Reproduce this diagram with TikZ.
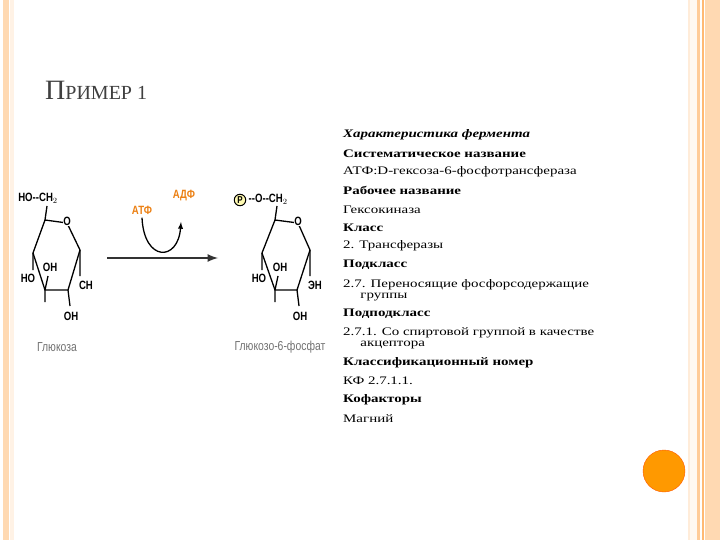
\documentclass[tikz,border=0pt]{standalone}
\usepackage{fontspec}
\setmainfont{Liberation Serif}
\newfontfamily\chemf[FakeStretch=0.8]{Liberation Sans}
\newfontfamily\widef[FakeStretch=1.3]{Liberation Serif}
\begin{document}
\begin{tikzpicture}[x=1pt,y=-1pt,
  lbl/.style={font=\chemf\fontsize{12}{12}\selectfont\bfseries, inner sep=0.5pt},
  bond/.style={line width=1.3pt},
  txt/.style={anchor=west, font=\widef\fontsize{11.5}{11}\selectfont, inner sep=0pt, align=left}]
\useasboundingbox (0,0) rectangle (720,540);
\fill[white] (0,0) rectangle (720,540);
% left bars
\fill[orange!30!white] (3,0) rectangle (9,540);
\fill[orange!10!white] (10,0) rectangle (14,540);
% right bars
\fill[orange!15!white] (688,0) rectangle (690,540);
\fill[orange!5!white] (690,0) rectangle (697,540);
\fill[orange!40!white] (697,0) rectangle (700,540);
\fill[orange!55!white] (702,0) rectangle (704,540);
\fill[orange!30!white] (705,0) rectangle (720,540);
\node[circle, fill=orange!80!yellow, draw=orange!70!red, minimum size=42pt, inner sep=0] (dot) at (664,471) {};
% title
\node[anchor=base west, inner sep=0, text=black!75] (title) at (45,100) {\fontsize{28}{28}\selectfont П\fontsize{20}{20}\selectfont РИМЕР 1};
% glucose
\begin{scope}
\coordinate (a5) at (45,220); \coordinate (ao) at (67,223); \coordinate (a1) at (80,250);
\coordinate (a2) at (68,290); \coordinate (a3) at (45,290); \coordinate (a4) at (33,253);
\draw[bond] (a5) -- (ao) (ao) -- (a1) -- (a2) -- (a3) -- (a4) -- (a5);
\node[lbl, fill=white] (o1) at (67,221) {O};
\node[lbl] (ho1) at (38,198) {HO--CH$_2$};
\draw[bond] (a5) -- (47,206);
\node[lbl] (oh1) at (50,267) {OH}; \node[lbl] (ho2) at (28,278) {HO};
\node[lbl] (ch1) at (86,285) {CH}; \node[lbl] (oh2) at (71,316) {OH};
\draw[bond] (a4) -- (33,270) (a3) -- (45,302) (a2) -- (70,306) (a1) -- (80,276) (a3)--(48,276);
\node[text=black!55, font=\chemf\fontsize{13}{13}\selectfont] (g1) at (57,347) {Глюкоза};
\end{scope}
% arrow
\coordinate (s) at (107,258); \coordinate (e) at (218,258);
\draw[line width=2.5pt, black!80, -latex] (s) -- (e);
\node[text=orange!70!brown, font=\chemf\fontsize{12}{12}\selectfont\bfseries] (atf) at (142,210) {АТФ};
\node[text=orange!70!brown, font=\chemf\fontsize{12}{12}\selectfont\bfseries] (adf) at (184,196) {АДФ};
\draw[line width=1.3pt, -latex] (atf.south) .. controls (144,262) and (178,262) .. (181,222);
% product
\begin{scope}
\coordinate (b5) at (275,220); \coordinate (bo) at (298,223); \coordinate (b1) at (310,250);
\coordinate (b2) at (297,290); \coordinate (b3) at (275,290); \coordinate (b4) at (262,253);
\draw[bond] (b5) -- (bo) (bo) -- (b1) -- (b2) -- (b3) -- (b4) -- (b5);
\node[lbl, fill=white] (o2) at (298,221) {O};
\node[circle, draw, line width=1pt, fill=yellow!30, inner sep=1pt, font=\chemf\fontsize{10}{10}\selectfont\bfseries] (p) at (240,200) {P};
\node[lbl, anchor=west] (och) at (248,199) {--O--CH$_2$};
\draw[bond] (b5) -- (277,206);
\node[lbl] (oh3) at (280,267) {OH}; \node[lbl] (ho3) at (259,278) {HO};
\node[lbl] (ch2) at (315,285) {ЭН}; \node[lbl] (oh4) at (300,316) {OH};
\draw[bond] (b4) -- (262,270) (b3) -- (275,302) (b2) -- (299,306) (b1) -- (310,276) (b3)--(278,276);
\node[text=black!55, font=\chemf\fontsize{13}{13}\selectfont] (g2) at (280,347) {Глюкозо-6-фосфат};
\end{scope}
% text
\node[txt] (t1) at (343,135) {\bfseries\itshape Характеристика фермента};
\node[txt] (t2) at (343,154) {\bfseries Систематическое название};
\node[txt] (t3) at (343,172) {АТФ:D-гексоза-6-фосфотрансфераза};
\node[txt] (t4) at (343,190) {\bfseries Рабочее название};
\node[txt] (t5) at (343,210) {Гексокиназа};
\node[txt] (t6) at (343,228) {\bfseries Класс};
\node[txt] (t7) at (343,246) {2. Трансферазы};
\node[txt] (t8) at (343,265) {\bfseries Подкласс};
\node[txt] (t9) at (343,290) {2.7. Переносящие фосфорсодержащие\\\hspace{1.5em}группы};
\node[txt] (t10) at (343,314) {\bfseries Подподкласс};
\node[txt] (t11) at (343,338) {2.7.1. Со спиртовой группой в качестве\\\hspace{1.5em}акцептора};
\node[txt] (t12) at (343,363) {\bfseries Классификационный номер};
\node[txt] (t13) at (343,381) {КФ 2.7.1.1.};
\node[txt] (t14) at (343,400) {\bfseries Кофакторы};
\node[txt] (t15) at (343,419) {Магний};
\end{tikzpicture}
\end{document}
